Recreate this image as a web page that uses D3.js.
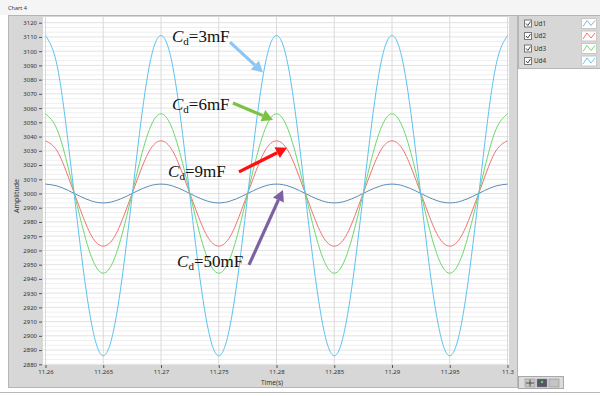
<!DOCTYPE html>
<html>
<head>
<meta charset="utf-8">
<script src="https://cdn.jsdelivr.net/npm/d3@7"></script>
<style>
  html, body { margin: 0; padding: 0; background: #fff; }
  svg { display: block; }
  .tick text { font-family: "Noto Sans", "DejaVu Sans", sans-serif; font-size: 6px; fill: #333; }
</style>
</head>
<body>
<script>
// sample times (s)
const time = [11.260, 11.261, 11.262, 11.263, 11.264, 11.265, 11.266, 11.267, 11.268, 11.269,
              11.270, 11.271, 11.272, 11.273, 11.274, 11.275, 11.276, 11.277, 11.278, 11.279,
              11.280, 11.281, 11.282, 11.283, 11.284, 11.285, 11.286, 11.287, 11.288, 11.289,
              11.290, 11.291, 11.292, 11.293, 11.294, 11.295, 11.296, 11.297, 11.298, 11.299,
              11.300];

// Ud1 : Cd = 50mF
const ud1 = [3006.6, 3005.3, 3002.0, 2998.0, 2994.7, 2993.4, 2994.7, 2998.0, 3002.0, 3005.3,
             3006.6, 3005.3, 3002.0, 2998.0, 2994.7, 2993.4, 2994.7, 2998.0, 3002.0, 3005.3,
             3006.6, 3005.3, 3002.0, 2998.0, 2994.7, 2993.4, 2994.7, 2998.0, 3002.0, 3005.3,
             3006.6, 3005.3, 3002.0, 2998.0, 2994.7, 2993.4, 2994.7, 2998.0, 3002.0, 3005.3,
             3006.6];
// Ud2 : Cd = 9mF
const ud2 = [3037, 3030, 3011, 2989, 2970, 2963, 2970, 2989, 3011, 3030,
             3037, 3030, 3011, 2989, 2970, 2963, 2970, 2989, 3011, 3030,
             3037, 3030, 3011, 2989, 2970, 2963, 2970, 2989, 3011, 3030,
             3037, 3030, 3011, 2989, 2970, 2963, 2970, 2989, 3011, 3030,
             3037];
// Ud3 : Cd = 6mF
const ud3 = [3056, 3045, 3017, 2983, 2955, 2944, 2955, 2983, 3017, 3045,
             3056, 3045, 3017, 2983, 2955, 2944, 2955, 2983, 3017, 3045,
             3056, 3045, 3017, 2983, 2955, 2944, 2955, 2983, 3017, 3045,
             3056, 3045, 3017, 2983, 2955, 2944, 2955, 2983, 3017, 3045,
             3056];
// Ud4 : Cd = 3mF
const ud4 = [3111, 3090, 3033, 2964, 2908, 2886, 2908, 2964, 3033, 3090,
             3111, 3090, 3033, 2964, 2908, 2886, 2908, 2964, 3033, 3090,
             3111, 3090, 3033, 2964, 2908, 2886, 2908, 2964, 3033, 3090,
             3111, 3090, 3033, 2964, 2908, 2886, 2908, 2964, 3033, 3090,
             3111];

const seriesNames = ["Ud1", "Ud2", "Ud3", "Ud4"];
const seriesColors = ["#5b8cb8", "#f27272", "#6fd66f", "#5cc2ef"];
const swatchColors = ["#8db3d6", "#f27272", "#77d877", "#6cc8f2"];

const xTicks = [11.26, 11.265, 11.27, 11.275, 11.28, 11.285, 11.29, 11.295, 11.3];
const xTickLabels = ["11.26", "11.265", "11.27", "11.275", "11.28", "11.285", "11.29", "11.295", "11.3"];
const yTicks = [2880, 2890, 2900, 2910, 2920, 2930, 2940, 2950, 2960, 2970, 2980, 2990, 3000,
                3010, 3020, 3030, 3040, 3050, 3060, 3070, 3080, 3090, 3100, 3110, 3120];

// annotations: label, text anchor [t, v], arrow tail [t, v], arrow tip [t, v], colour
const notes = [
  {cap: "3mF",  at: [11.27095, 3106.4], from: [11.27597, 3106.4], to: [11.27883, 3085.0], color: "#8ec6f3"},
  {cap: "6mF",  at: [11.27095, 3058.7], from: [11.27623, 3063.6], to: [11.27970, 3051.7], color: "#7cc242"},
  {cap: "9mF",  at: [11.27061, 3011.6], from: [11.27675, 3015.2], to: [11.28091, 3032.1], color: "#ff1010"},
  {cap: "50mF", at: [11.27139, 2948.4], from: [11.27762, 2949.8], to: [11.28056, 3002.5], color: "#7d62a3"}
];

const W = 600, H = 396;
const UI_FONT = "Noto Sans, DejaVu Sans, sans-serif";
const svg = d3.select("body").append("svg").attr("width", W).attr("height", H);

// window chrome
svg.append("rect").attr("width", W).attr("height", H).attr("fill", "#fff");
svg.append("rect").attr("width", W).attr("height", 15).attr("fill", "#f5f5f5");
svg.append("line").attr("x1", 0).attr("x2", W).attr("y1", 392.5).attr("y2", 392.5).attr("stroke", "#b8b8b8");
svg.append("text").attr("x", 8).attr("y", 10).text("Chart 4")
  .attr("font-family", UI_FONT).attr("font-size", 5.5).attr("fill", "#333");

// graph frame
svg.append("rect").attr("x", 8.5).attr("y", 15.5).attr("width", 509).attr("height", 372)
  .attr("fill", "#d7d7d7").attr("stroke", "#b5b5b5");

const margin = {left: 45.5, right: 507.5, top: 22.7, bottom: 364.3};
const x = d3.scaleLinear().domain([11.26, 11.3]).range([margin.left, margin.right]);
const y = d3.scaleLinear().domain([2880, 3120]).range([margin.bottom, margin.top]);

svg.append("rect").attr("x", 43).attr("y", 17).attr("width", 466).attr("height", 348).attr("fill", "#fff");

// grid
const grid = svg.append("g");
for (let i = 0; i < yTicks.length - 1; i++) {
  [1, 2].forEach(k => {
    const v = yTicks[i] + (yTicks[i + 1] - yTicks[i]) * k / 3;
    grid.append("line").attr("x1", 43).attr("x2", 509)
      .attr("y1", y(v)).attr("y2", y(v)).attr("stroke", "#efefef");
  });
}
yTicks.forEach(v => {
  grid.append("line").attr("x1", 43).attr("x2", 509)
    .attr("y1", y(v)).attr("y2", y(v)).attr("stroke", "#e2e2e2");
});
xTicks.forEach(t => {
  grid.append("line").attr("x1", x(t)).attr("x2", x(t))
    .attr("y1", 17).attr("y2", 365).attr("stroke", "#dadada");
});

// axes
const gy = svg.append("g").attr("transform", "translate(42,0)")
  .call(d3.axisLeft(y).tickValues(yTicks).tickSize(3).tickPadding(2).tickFormat(d3.format("d")));
const gx = svg.append("g").attr("transform", "translate(0,365)")
  .call(d3.axisBottom(x).tickValues(xTicks).tickSize(3).tickPadding(2)
    .tickFormat((d, i) => xTickLabels[i]));
[gx, gy].forEach(g => {
  g.select(".domain").remove();
  g.selectAll(".tick line").attr("stroke", "#555");
});

svg.append("text").attr("transform", "translate(19,196) rotate(-90)")
  .attr("text-anchor", "middle").text("Amplitude")
  .attr("font-family", UI_FONT).attr("font-size", 7).attr("fill", "#333");
svg.append("text").attr("x", 272).attr("y", 385)
  .attr("text-anchor", "middle").text("Time(s)")
  .attr("font-family", UI_FONT).attr("font-size", 6.5).attr("fill", "#333");

// curves
const series = [ud1, ud2, ud3, ud4];
const line = d3.line()
  .x((d, i) => x(time[i]))
  .y(d => y(d))
  .curve(d3.curveNatural);

const plot = svg.append("g");
series.forEach((s, i) => {
  plot.append("path").attr("d", line(s))
    .attr("fill", "none").attr("stroke", seriesColors[i]).attr("stroke-width", 1);
});

// annotations
notes.forEach(n => {
  const t = svg.append("text").attr("x", x(n.at[0])).attr("y", y(n.at[1]))
    .attr("font-family", "Liberation Serif, Times New Roman, serif").attr("font-size", 17).attr("fill", "#111");
  t.append("tspan").attr("font-style", "italic").text("C");
  t.append("tspan").attr("font-size", 11).attr("dy", 3).text("d");
  t.append("tspan").attr("dy", -3).text("=" + n.cap);

  const x0 = x(n.from[0]), y0 = y(n.from[1]);
  const x1 = x(n.to[0]), y1 = y(n.to[1]);
  const ang = Math.atan2(y1 - y0, x1 - x0);
  const headLen = 11, headW = 6;
  const bx = x1 - headLen * Math.cos(ang), by = y1 - headLen * Math.sin(ang);
  svg.append("line").attr("x1", x0).attr("y1", y0).attr("x2", bx).attr("y2", by)
    .attr("stroke", n.color).attr("stroke-width", 3.2);
  const px = -Math.sin(ang), py = Math.cos(ang);
  svg.append("polygon")
    .attr("points", [[x1, y1], [bx + px * headW, by + py * headW], [bx - px * headW, by - py * headW]].map(p => p.join(",")).join(" "))
    .attr("fill", n.color);
});

// legend
const leg = svg.append("g");
leg.append("rect").attr("x", 518.5).attr("y", 15.5).attr("width", 82).attr("height", 53)
  .attr("fill", "#d7d7d7").attr("stroke", "#b5b5b5");
seriesNames.forEach((name, i) => {
  const cy = 23.5 + i * 12.5;
  leg.append("rect").attr("x", 524.5).attr("y", cy - 3.5).attr("width", 7).attr("height", 7)
    .attr("fill", "#fafafa").attr("stroke", "#777");
  leg.append("path").attr("d", `M526,${cy} L527.8,${cy + 2} L530.5,${cy - 2}`)
    .attr("fill", "none").attr("stroke", "#333").attr("stroke-width", 0.9);
  leg.append("text").attr("x", 534).attr("y", cy + 2.3).text(name)
    .attr("font-family", UI_FONT).attr("font-size", 6.3).attr("fill", "#333");
  leg.append("rect").attr("x", 581.5).attr("y", cy - 5).attr("width", 15).attr("height", 10)
    .attr("fill", "#fff").attr("stroke", "#c8c8c8");
  leg.append("path").attr("d", `M583,${cy + 3} L587,${cy - 3} L591,${cy + 2} L595,${cy - 3}`)
    .attr("fill", "none").attr("stroke", swatchColors[i]).attr("stroke-width", 1);
});

// graph palette buttons
const pal = svg.append("g");
pal.append("rect").attr("x", 518.5).attr("y", 376.5).attr("width", 45).attr("height", 12)
  .attr("fill", "#dcdcdc").attr("stroke", "#a8a8a8");
[0, 1, 2].forEach(k => {
  pal.append("rect").attr("x", 525 + k * 12).attr("y", 379).attr("width", 10).attr("height", 8)
    .attr("fill", k === 1 ? "#556" : "#c4c4c4").attr("stroke", "#888").attr("stroke-width", 0.5);
});
pal.append("path").attr("d", "M530,379.5 V386.5 M526,383 H534").attr("stroke", "#333").attr("stroke-width", 0.8);
pal.append("circle").attr("cx", 542).attr("cy", 382).attr("r", 1.3).attr("fill", "#6c6");
</script>
</body>
</html>
